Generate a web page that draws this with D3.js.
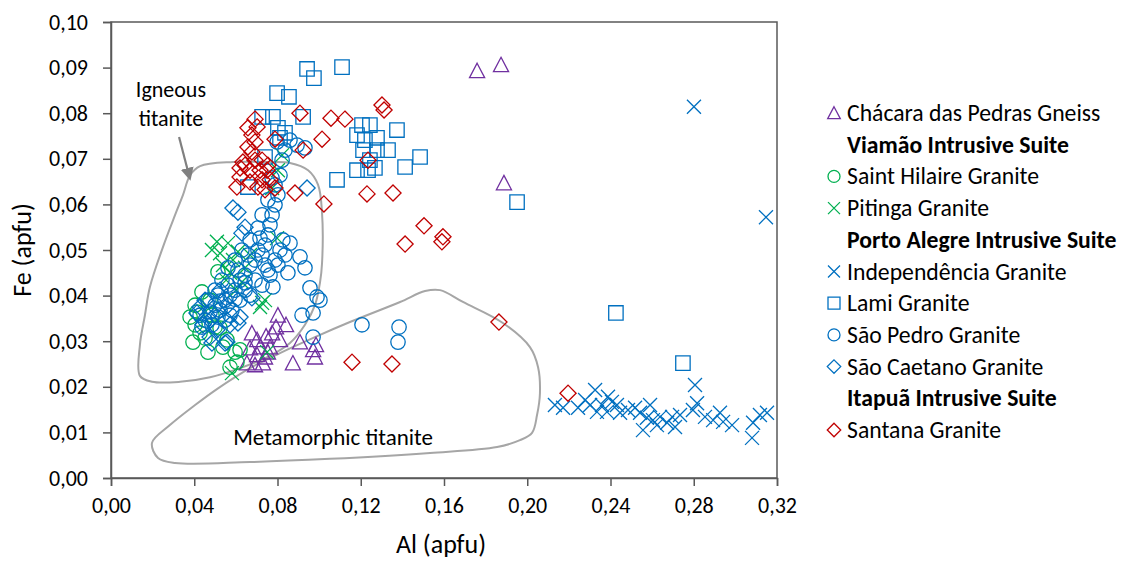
<!DOCTYPE html>
<html><head><meta charset="utf-8">
<script src="https://cdn.jsdelivr.net/npm/d3@7"></script>
<style>
body{margin:0;background:#fff;}
text{font-family:Carlito,Calibri,Lato,"Liberation Sans",sans-serif;fill:#000;}
</style></head>
<body><svg id="c" width="1125" height="562"></svg>
<script>
// ---- data (Al apfu, Fe apfu) ----
const chacara = [[0.1759,0.0893],[0.1874,0.0906],[0.1888,0.0647],[0.0677,0.0318],[0.0702,0.0303],[0.0745,0.0311],[0.0793,0.0331],[0.0841,0.0336],[0.0774,0.0318],[0.0812,0.0303],[0.0716,0.0287],[0.0764,0.0287],[0.0702,0.0270],[0.0740,0.0265],[0.0653,0.0252],[0.0692,0.0248],[0.0730,0.0252],[0.0874,0.0252],[0.0908,0.0298],[0.0971,0.0281],[0.0980,0.0265],[0.0802,0.0357],[0.0668,0.0285],[0.0754,0.0276],[0.0985,0.0292]];
const saintHilaire = [[0.0380,0.0353],[0.0404,0.0336],[0.0413,0.0364],[0.0428,0.0318],[0.0394,0.0298],[0.0466,0.0276],[0.0500,0.0331],[0.0524,0.0329],[0.0538,0.0287],[0.0596,0.0276],[0.0572,0.0243],[0.0605,0.0254],[0.0514,0.0452],[0.0437,0.0408],[0.0404,0.0379],[0.0476,0.0390],[0.0557,0.0303],[0.0452,0.0307],[0.0485,0.0357],[0.0620,0.0281]];
const pitinga = [[0.0509,0.0518],[0.0562,0.0515],[0.0524,0.0493],[0.0538,0.0467],[0.0586,0.0478],[0.0572,0.0450],[0.0610,0.0496],[0.0740,0.0390],[0.0716,0.0375],[0.0629,0.0430],[0.0798,0.0526],[0.0822,0.0708],[0.0802,0.0675],[0.0774,0.0636],[0.0726,0.0384],[0.0750,0.0276],[0.0581,0.0230],[0.0644,0.0461],[0.0668,0.0489],[0.0485,0.0500],[0.0553,0.0434],[0.0601,0.0412]];
const independencia = [[0.2801,0.0814],[0.3147,0.0572],[0.2133,0.0160],[0.2172,0.0154],[0.2244,0.0154],[0.2326,0.0193],[0.2302,0.0160],[0.2335,0.0145],[0.2359,0.0160],[0.2388,0.0178],[0.2383,0.0145],[0.2431,0.0160],[0.2446,0.0143],[0.2518,0.0154],[0.2590,0.0160],[0.2575,0.0132],[0.2556,0.0105],[0.2604,0.0127],[0.2638,0.0134],[0.2672,0.0121],[0.2696,0.0134],[0.2710,0.0112],[0.2734,0.0138],[0.2796,0.0149],[0.2806,0.0204],[0.2816,0.0164],[0.2854,0.0134],[0.2893,0.0127],[0.2926,0.0143],[0.2941,0.0123],[0.2984,0.0116],[0.3085,0.0121],[0.3118,0.0138],[0.3152,0.0143],[0.3080,0.0088],[0.2278,0.0171],[0.2484,0.0149],[0.2542,0.0143],[0.2623,0.0116],[0.2407,0.0167]];
const lami = [[0.0942,0.0897],[0.0975,0.0877],[0.1110,0.0901],[0.0798,0.0844],[0.0855,0.0836],[0.0726,0.0792],[0.0778,0.0792],[0.0923,0.0792],[0.0802,0.0768],[0.0836,0.0757],[0.0812,0.0746],[0.1206,0.0774],[0.1244,0.0774],[0.1182,0.0752],[0.1278,0.0746],[0.1374,0.0763],[0.1211,0.0719],[0.1278,0.0719],[0.1331,0.0719],[0.1485,0.0704],[0.1413,0.0682],[0.1182,0.0675],[0.1235,0.0675],[0.1268,0.0680],[0.1086,0.0654],[0.1951,0.0605],[0.2426,0.0362],[0.2748,0.0252],[0.0740,0.0704],[0.0658,0.0638],[0.1244,0.0697],[0.1220,0.0741]];
const saoPedro = [[0.0452,0.0346],[0.0476,0.0364],[0.0500,0.0379],[0.0485,0.0336],[0.0524,0.0368],[0.0548,0.0390],[0.0514,0.0401],[0.0572,0.0401],[0.0562,0.0423],[0.0596,0.0412],[0.0620,0.0434],[0.0610,0.0456],[0.0644,0.0445],[0.0668,0.0467],[0.0658,0.0489],[0.0692,0.0478],[0.0706,0.0500],[0.0726,0.0489],[0.0740,0.0511],[0.0716,0.0526],[0.0754,0.0533],[0.0764,0.0555],[0.0774,0.0577],[0.0788,0.0599],[0.0802,0.0621],[0.0788,0.0643],[0.0812,0.0664],[0.0774,0.0658],[0.0822,0.0697],[0.0836,0.0719],[0.0860,0.0741],[0.0740,0.0467],[0.0764,0.0445],[0.0788,0.0478],[0.0812,0.0500],[0.0836,0.0489],[0.0692,0.0434],[0.0644,0.0412],[0.0548,0.0346],[0.0581,0.0368],[0.0620,0.0390],[0.0668,0.0401],[0.0726,0.0423],[0.0754,0.0456],[0.0802,0.0467],[0.0826,0.0522],[0.0860,0.0515],[0.0908,0.0485],[0.0932,0.0461],[0.0850,0.0450],[0.0956,0.0417],[0.0990,0.0397],[0.1004,0.0390],[0.0971,0.0362],[0.0918,0.0357],[0.0971,0.0309],[0.1206,0.0336],[0.1384,0.0331],[0.1379,0.0298],[0.0778,0.0419],[0.0894,0.0730],[0.0932,0.0724],[0.0798,0.0737],[0.0754,0.0610],[0.0726,0.0577],[0.0706,0.0548],[0.0668,0.0522],[0.0629,0.0500],[0.0596,0.0478],[0.0562,0.0461],[0.0533,0.0434],[0.0500,0.0412],[0.0466,0.0390],[0.0428,0.0357],[0.0437,0.0331],[0.0514,0.0353],[0.0572,0.0357],[0.0524,0.0388],[0.0596,0.0392],[0.0644,0.0428]];
const saoCaetano = [[0.0586,0.0592],[0.0610,0.0583],[0.0644,0.0550],[0.0942,0.0636],[0.0428,0.0375],[0.0413,0.0362],[0.0476,0.0309],[0.0548,0.0296],[0.0620,0.0353],[0.0677,0.0395],[0.0485,0.0296],[0.0557,0.0298],[0.0509,0.0325],[0.0610,0.0340],[0.0452,0.0390],[0.0500,0.0357],[0.0524,0.0412],[0.0562,0.0379],[0.0476,0.0346],[0.0629,0.0537],[0.0572,0.0336],[0.0442,0.0336]];
const santana = [[0.0692,0.0787],[0.0658,0.0768],[0.0702,0.0770],[0.0677,0.0752],[0.0692,0.0737],[0.0658,0.0726],[0.0908,0.0800],[0.1057,0.0789],[0.1124,0.0787],[0.1302,0.0818],[0.1312,0.0807],[0.1014,0.0743],[0.0923,0.0719],[0.0788,0.0743],[0.0677,0.0715],[0.0634,0.0693],[0.0620,0.0680],[0.0644,0.0686],[0.0668,0.0675],[0.0620,0.0660],[0.0605,0.0638],[0.0716,0.0675],[0.0750,0.0675],[0.0726,0.0654],[0.0764,0.0654],[0.0740,0.0632],[0.0788,0.0636],[0.0884,0.0625],[0.1023,0.0601],[0.1230,0.0623],[0.1355,0.0625],[0.1504,0.0553],[0.1413,0.0513],[0.1590,0.0518],[0.1864,0.0342],[0.1158,0.0254],[0.1350,0.0250],[0.2196,0.0186],[0.0706,0.0638],[0.1235,0.0697],[0.1595,0.0529],[0.0692,0.0697],[0.0726,0.0697],[0.0754,0.0686],[0.0668,0.0649]];

const igneousOutline = [[0.0380,0.0664],[0.0428,0.0684],[0.0586,0.0693],[0.0750,0.0693],[0.0860,0.0691],[0.0947,0.0675],[0.0995,0.0643],[0.1014,0.0581],[0.1014,0.0471],[0.1004,0.0428],[0.0980,0.0379],[0.0932,0.0336],[0.0860,0.0296],[0.0764,0.0268],[0.0620,0.0241],[0.0476,0.0221],[0.0332,0.0211],[0.0197,0.0211],[0.0139,0.0224],[0.0139,0.0292],[0.0163,0.0357],[0.0187,0.0419],[0.0250,0.0507],[0.0308,0.0577],[0.0346,0.0621]];
const metamorphicOutline = [[0.0197,0.0077],[0.0283,0.0116],[0.0404,0.0160],[0.0509,0.0195],[0.0668,0.0241],[0.0812,0.0274],[0.0980,0.0309],[0.1148,0.0342],[0.1389,0.0386],[0.1509,0.0410],[0.1581,0.0412],[0.1691,0.0386],[0.1883,0.0340],[0.2013,0.0287],[0.2052,0.0243],[0.2061,0.0186],[0.2047,0.0138],[0.2023,0.0099],[0.1965,0.0083],[0.1855,0.0068],[0.1533,0.0055],[0.1052,0.0042],[0.0668,0.0035],[0.0308,0.0033],[0.0226,0.0044]];
const arrowPts = [[0.0327,0.0748],[0.0377,0.0660]];

const xTicks = [0,0.04,0.08,0.12,0.16,0.20,0.24,0.28,0.32];
const yTicks = [0,0.01,0.02,0.03,0.04,0.05,0.06,0.07,0.08,0.09,0.10];

const legendItems = [
  {label:"Chácara das Pedras Gneiss", sym:"triangle", color:"#7030A0"},
  {label:"Viamão Intrusive Suite", header:true},
  {label:"Saint Hilaire Granite", sym:"circle", color:"#00B050"},
  {label:"Pitinga Granite", sym:"x", color:"#00B050"},
  {label:"Porto Alegre Intrusive Suite", header:true},
  {label:"Independência Granite", sym:"x", color:"#0070C0"},
  {label:"Lami Granite", sym:"square", color:"#0070C0"},
  {label:"São Pedro Granite", sym:"circle", color:"#0070C0"},
  {label:"São Caetano Granite", sym:"diamond", color:"#0070C0"},
  {label:"Itapuã Intrusive Suite", header:true},
  {label:"Santana Granite", sym:"diamond", color:"#C00000"}
];

const series = [
  {data:chacara, sym:"triangle", color:"#7030A0"},
  {data:saintHilaire, sym:"circle", color:"#00B050"},
  {data:pitinga, sym:"x", color:"#00B050"},
  {data:independencia, sym:"x", color:"#0070C0"},
  {data:lami, sym:"square", color:"#0070C0"},
  {data:saoPedro, sym:"circle", color:"#0070C0"},
  {data:saoCaetano, sym:"diamond", color:"#0070C0"},
  {data:santana, sym:"diamond", color:"#C00000"}
];

// ---- layout ----
const L=111, R=777, T=22, B=478;
const svg = d3.select("#c");
const x = d3.scaleLinear().domain([0,0.32]).range([L,R]);
const y = d3.scaleLinear().domain([0,0.10]).range([B,T]);
const fmt = d => d.toFixed(2).replace(".", ",");
const axisColor = "#595959";

function symPath(sym, s){
  switch(sym){
    case "circle": return `M${-s},0A${s},${s} 0 1,0 ${s},0A${s},${s} 0 1,0 ${-s},0Z`;
    case "square": return `M${-s},${-s}H${s}V${s}H${-s}Z`;
    case "diamond": return `M0,${-s*1.12}L${s*1.12},0L0,${s*1.12}L${-s*1.12},0Z`;
    case "triangle": return `M0,${-s*1.05}L${s*1.05},${s*0.95}L${-s*1.05},${s*0.95}Z`;
    case "x": return `M${-s},${-s}L${s},${s}M${-s},${s}L${s},${-s}`;
  }
}

// plot frame
svg.append("rect").attr("x",L).attr("y",T).attr("width",R-L).attr("height",B-T)
  .attr("fill","none").attr("stroke",axisColor).attr("stroke-width",1.5);

// axes
const xAxis = svg.append("g").attr("transform",`translate(0,${B})`)
  .call(d3.axisBottom(x).tickValues(xTicks).tickFormat(fmt).tickSize(8).tickPadding(11));
const yAxis = svg.append("g").attr("transform",`translate(${L},0)`)
  .call(d3.axisLeft(y).tickValues(yTicks).tickFormat(fmt).tickSize(8).tickPadding(15));
[xAxis,yAxis].forEach(g=>{
  g.select(".domain").attr("stroke",axisColor).attr("stroke-width",1.5);
  g.selectAll(".tick line").attr("stroke",axisColor).attr("stroke-width",1.5);
  g.selectAll(".tick text").style("font-size","22px").attr("fill","#000")
   .style("font-family","Carlito,Calibri,Lato,sans-serif");
});

// axis titles
svg.append("text").attr("x",441).attr("y",553).attr("text-anchor","middle")
  .style("font-size","26px").text("Al (apfu)");
svg.append("text").attr("transform",`translate(31,${(T+B)/2}) rotate(-90)`)
  .attr("text-anchor","middle").style("font-size","26px").text("Fe (apfu)");

// outlines
const outline = d3.line().x(d=>x(d[0])).y(d=>y(d[1])).curve(d3.curveCatmullRomClosed.alpha(0.5));
[igneousOutline, metamorphicOutline].forEach(o=>{
  svg.append("path").attr("d",outline(o)).attr("fill","none")
    .attr("stroke","#A6A6A6").attr("stroke-width",2);
});

// arrow
svg.append("defs").append("marker").attr("id","ah").attr("viewBox","0 0 10 10")
  .attr("refX",7).attr("refY",5).attr("markerWidth",6).attr("markerHeight",6)
  .attr("orient","auto").attr("markerUnits","strokeWidth")
  .append("path").attr("d","M0,0L10,5L0,10Z").attr("fill","#808080");
svg.append("line").attr("x1",x(arrowPts[0][0])).attr("y1",y(arrowPts[0][1]))
  .attr("x2",x(arrowPts[1][0])).attr("y2",y(arrowPts[1][1]))
  .attr("stroke","#808080").attr("stroke-width",2.2).attr("marker-end","url(#ah)");

// annotation text
svg.append("text").attr("x",x(0.0288)).attr("y",y(0.0853)+8).attr("text-anchor","middle")
  .style("font-size","22px").text("Igneous");
svg.append("text").attr("x",x(0.0288)).attr("y",y(0.0789)+8).attr("text-anchor","middle")
  .style("font-size","22px").text("titanite");
svg.append("text").attr("x",x(0.1067)).attr("y",y(0.0090)+8).attr("text-anchor","middle")
  .style("font-size","23px").text("Metamorphic titanite");

// points
series.forEach(s=>{
  const size = s.sym==="circle"?7.2: s.sym==="square"?7.2: s.sym==="x"?7: 7.2;
  svg.append("g").selectAll("path").data(s.data).join("path")
    .attr("transform",d=>`translate(${x(d[0])},${y(d[1])})`)
    .attr("d",symPath(s.sym,size))
    .attr("fill","none").attr("stroke",s.color).attr("stroke-width",1.3);
});

// legend
const lg = svg.append("g");
legendItems.forEach((it,i)=>{
  const yy = 113 + i*31.7;
  if(!it.header){
    lg.append("path").attr("transform",`translate(834,${yy})`).attr("d",symPath(it.sym,6))
      .attr("fill","none").attr("stroke",it.color).attr("stroke-width",1.3);
  }
  lg.append("text").attr("x",847).attr("y",yy+8).style("font-size","23.7px")
    .style("font-weight",it.header?"bold":"normal").text(it.label);
});
</script></body></html>
